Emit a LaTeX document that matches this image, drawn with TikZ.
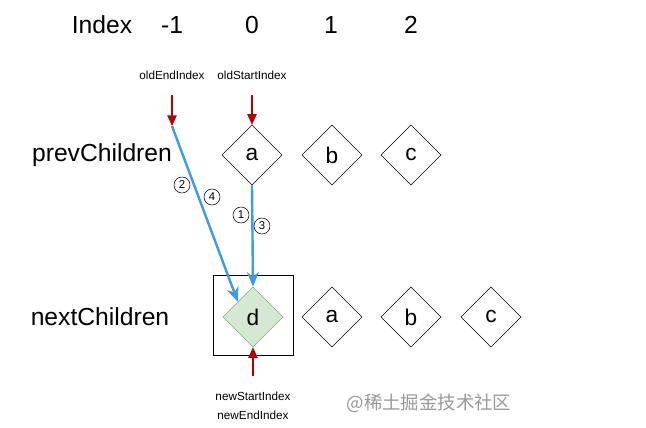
\documentclass[tikz,border=0pt]{standalone}
\usepackage{fontspec}
\setmainfont{Liberation Sans}
\newfontfamily\cjk{Noto Sans CJK SC}
\usetikzlibrary{shapes.geometric,arrows.meta}
\definecolor{blueline}{HTML}{3D9BE9}
\definecolor{redline}{HTML}{B80000}
\definecolor{dfill}{HTML}{D5E8D4}
\definecolor{dstroke}{HTML}{82B366}
\tikzset{
  big/.style={font=\fontsize{18.5}{22}\selectfont},
  small/.style={font=\fontsize{8.8}{10}\selectfont},
  dia/.style={diamond,draw=black,minimum width=45pt,minimum height=45pt,inner sep=0pt,font=\fontsize{17}{20}\selectfont},
  redarrow/.style={draw=redline,line width=1.1pt,-{Triangle[width=7pt,length=8pt]}},
  bluearrow/.style={draw=blueline,line width=1.8pt,-{Stealth[width=9pt,length=11pt]}},
  circnum/.style={circle,draw=black,inner sep=0.6pt,minimum size=12pt,font=\fontsize{8.5}{9}\selectfont}
}
\begin{document}
\begin{tikzpicture}[x=0.75pt,y=-0.75pt]
\useasboundingbox[fill=white] (0,0) rectangle (646,428);
\node[big] (lidx) at (102,25) {Index};
\node[big] (lm1) at (172,25) {-1};
\node[big] (l0) at (252,25) {0};
\node[big] (l1) at (331,25) {1};
\node[big] (l2) at (411,25) {2};
\node[small] (oei) at (172,75) {oldEndIndex};
\node[small] (osi) at (252,75) {oldStartIndex};
\coordinate (oeitop) at (172,95);
\coordinate (oeibot) at (172,126);
\coordinate (ositop) at (252,95);
\node[big] (prev) at (102,155) {prevChildren};
\node[big] (next) at (100,317) {nextChildren};
\node[dia] (pa) at (252,155) {a};
\node[dia] (pb) at (332,155) {b};
\node[dia] (pc) at (411,155) {c};
\node[draw=black,minimum width=60pt,minimum height=60pt,inner sep=0pt] (box) at (253,315) {};
\node[dia,fill=dfill,draw=dstroke] (nd) at (253,317) {d};
\node[dia] (na) at (332,317) {a};
\node[dia] (nb) at (411,317) {b};
\node[dia] (nc) at (491,317) {c};
\coordinate (nsibot) at (253,376);
\node[small] (nsi) at (253,396) {newStartIndex};
\node[small] (nei) at (253,415) {newEndIndex};
\draw[redarrow] (oeitop) -- (oeibot);
\draw[redarrow] (ositop) -- (pa.north);
\draw[redarrow] (nsibot) -- (nd.south);
\draw[bluearrow] (oeibot) -- (nd.north west);
\draw[bluearrow] (pa.south) -- (nd.north);
\node[circnum] (c2) at (182,185) {2};
\node[circnum] (c4) at (212,197) {4};
\node[circnum] (c1) at (241,215) {1};
\node[circnum] (c3) at (262,226) {3};
\node[font=\cjk\fontsize{13.8}{16}\selectfont,text=black!40] (wm) at (429,403) {@稀土掘金技术社区};
\end{tikzpicture}
\end{document}
